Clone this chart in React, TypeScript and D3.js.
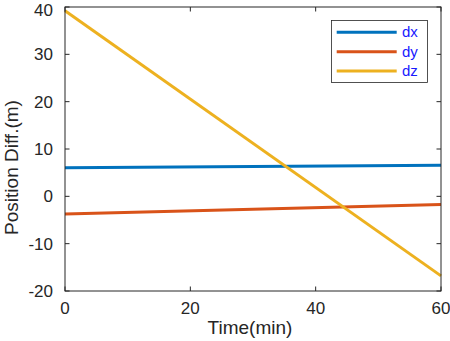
import React from "react";
import * as d3 from "d3";

const times = [0, 60];
const dx = [6.05, 6.55];
const dy = [-3.75, -1.75];
const dz = [39.2, -16.8];
const seriesNames = ["dx", "dy", "dz"];
const seriesColors = ["#0072BD", "#D95319", "#EDB120"];
const xTicks = [0, 20, 40, 60];
const yTicks = [-20, -10, 0, 10, 20, 30, 40];

const W = 450;
const H = 341;
const margin = { left: 65, right: 9, top: 7, bottom: 50 };
const FONT = "'Liberation Sans', Arial, Helvetica, sans-serif";
const AX = "#262626";

export default function App() {
  const x = d3.scaleLinear().domain([0, 60]).range([margin.left, W - margin.right]);
  const y = d3.scaleLinear().domain([-20, 40]).range([H - margin.bottom, margin.top]);
  const x0 = x.range()[0], x1 = x.range()[1];
  const y0 = y.range()[0], y1 = y.range()[1];
  const tl = 4.5;
  const series = [dx, dy, dz];
  const line = d3
    .line<number>()
    .x((_, i) => x(times[i]))
    .y((d) => y(d));

  const legX = 331.5, legY = 20.5, legW = 96, legH = 62;
  const rowY = [32.3, 51.7, 71];

  return (
    <svg
      width={W}
      height={H}
      style={{ position: "absolute", left: 0, top: 0, background: "#fff" }}
      fontFamily={FONT}
    >
      <rect x={0} y={0} width={W} height={H} fill="#fff" />
      {series.map((s, i) => (
        <path key={i} d={line(s) || ""} fill="none" stroke={seriesColors[i]} strokeWidth={3} />
      ))}
      {/* box */}
      <rect x={x0} y={y1} width={x1 - x0} height={y0 - y1} fill="none" stroke={AX} strokeWidth={1} />
      {xTicks.map((t) => (
        <g key={"xt" + t}>
          <line x1={x(t)} x2={x(t)} y1={y0} y2={y0 - tl} stroke={AX} />
          <line x1={x(t)} x2={x(t)} y1={y1} y2={y1 + tl} stroke={AX} />
          <text x={x(t)} y={313.5} fontSize={17} textAnchor="middle" fill={AX}>
            {t}
          </text>
        </g>
      ))}
      {yTicks.map((t) => (
        <g key={"yt" + t}>
          <line x1={x0} x2={x0 + tl} y1={y(t)} y2={y(t)} stroke={AX} />
          <line x1={x1} x2={x1 - tl} y1={y(t)} y2={y(t)} stroke={AX} />
          <text x={53} y={Math.max(y(t), 9.5)} dy="0.36em" fontSize={17} textAnchor="end" fill={AX}>
            {t}
          </text>
        </g>
      ))}
      <text x={250} y={334} fontSize={19} textAnchor="middle" fill={AX}>
        Time(min)
      </text>
      <text
        transform={`translate(18,167.5) rotate(-90)`}
        fontSize={19}
        textAnchor="middle"
        fill={AX}
      >
        Position Diff.(m)
      </text>
      {/* legend */}
      <rect x={legX} y={legY} width={legW} height={legH} fill="#fff" stroke={AX} strokeWidth={0.8} />
      {seriesNames.map((n, i) => (
        <g key={n}>
          <line x1={336.7} x2={396.7} y1={rowY[i]} y2={rowY[i]} stroke={seriesColors[i]} strokeWidth={3} />
          <text x={402} y={rowY[i]} dy="0.33em" fontSize={15} fill="#1a1aff">
            {n}
          </text>
        </g>
      ))}
    </svg>
  );
}
